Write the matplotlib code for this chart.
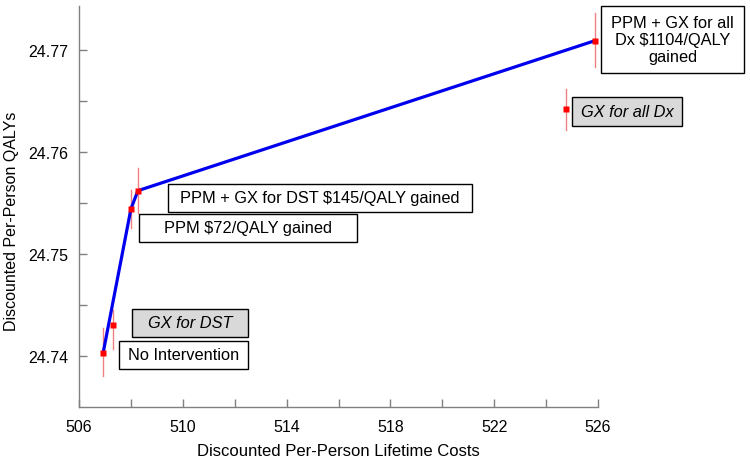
import matplotlib
matplotlib.use("Agg")
import matplotlib.pyplot as plt
from matplotlib.patches import Rectangle
from matplotlib.ticker import FixedLocator

plt.rcParams['font.family'] = ['Liberation Sans', 'DejaVu Sans']

# Data
strategies = ["No Intervention", "GX for DST", "PPM", "PPM + GX for DST", "PPM + GX for all Dx", "GX for all Dx"]
costs = [506.93, 507.30, 508.00, 508.27, 525.88, 524.78]
qalys = [24.7403, 24.7430, 24.7544, 24.7562, 24.7709, 24.7642]
q_low = [24.7380, 24.7407, 24.7525, 24.7540, 24.7683, 24.7621]
q_high = [24.7427, 24.7445, 24.7563, 24.7584, 24.7736, 24.7662]
frontier = ["No Intervention", "PPM", "PPM + GX for DST", "PPM + GX for all Dx"]

labels = ["No Intervention", "GX for DST", "PPM $72/QALY gained",
          "PPM + GX for DST $145/QALY gained",
          "PPM + GX for all\nDx $1104/QALY\ngained", "GX for all Dx"]
dominated = [False, True, False, False, False, True]

W, H = 750, 460
fig = plt.figure(figsize=(7.5, 4.6), dpi=100)
ax = fig.add_axes([79 / W, 1 - 408 / H, (598 - 79) / W, (408 - 7) / H])

ax.set_xlim(506, 526)
ax.set_ylim(24.735, 24.7743)

# frontier line
fx = [costs[strategies.index(s)] for s in frontier]
fy = [qalys[strategies.index(s)] for s in frontier]
ax.plot(fx, fy, color='#0000ee', lw=2.3, zorder=3)

# error bars and markers
for c, q, lo, hi in zip(costs, qalys, q_low, q_high):
    ax.plot([c, c], [lo, hi], color='#f08080', lw=1.0, zorder=2)
ax.plot(costs, qalys, 's', color='#ff0000', ms=4, zorder=4, mec='none')

# spines / ticks
for s in ['top', 'right']:
    ax.spines[s].set_visible(False)
for s in ['left', 'bottom']:
    ax.spines[s].set_color('#808080')
    ax.spines[s].set_linewidth(1.0)

ax.xaxis.set_major_locator(FixedLocator([506, 510, 514, 518, 522, 526]))
ax.xaxis.set_minor_locator(FixedLocator([508, 512, 516, 520, 524]))
ax.yaxis.set_major_locator(FixedLocator([24.74, 24.75, 24.76, 24.77]))
ax.yaxis.set_minor_locator(FixedLocator([24.745, 24.755, 24.765]))
ax.yaxis.set_major_formatter(matplotlib.ticker.FormatStrFormatter('%.2f'))
ax.tick_params(which='both', direction='in', length=6, color='#808080', width=1.0)
ax.tick_params(axis='x', which='major', pad=9, labelsize=11.5)
ax.tick_params(axis='y', which='major', pad=8, labelsize=11.5)

ax.set_xlabel("Discounted Per-Person Lifetime Costs", fontsize=12, labelpad=6)
ax.set_ylabel("Discounted Per-Person QALYs", fontsize=11.5)
ax.yaxis.set_label_coords(-0.115, 0.465)

# label boxes (pixel layout: x0, y0, x1, y1)
boxes = [
    (119, 342, 248, 370),
    (132, 310, 248, 338),
    (139, 215, 357, 243),
    (168, 185, 472, 213),
    (601, 7, 744, 74),
    (572, 98, 682, 127),
]
for lab, dom, (x0, y0, x1, y1) in zip(labels, dominated, boxes):
    rect = Rectangle((x0 / W, 1 - y1 / H), (x1 - x0) / W, (y1 - y0) / H,
                     transform=fig.transFigure, facecolor='#d9d9d9' if dom else 'white',
                     edgecolor='black', lw=1.0, zorder=5)
    fig.patches.append(rect)
    fig.text((x0 + x1) / 2 / W, 1 - (y0 + y1) / 2 / H, lab, ha='center', va='center',
             fontsize=11.8, style='italic' if dom else 'normal', linespacing=1.15, zorder=6)

fig.savefig("out.png", dpi=100)
